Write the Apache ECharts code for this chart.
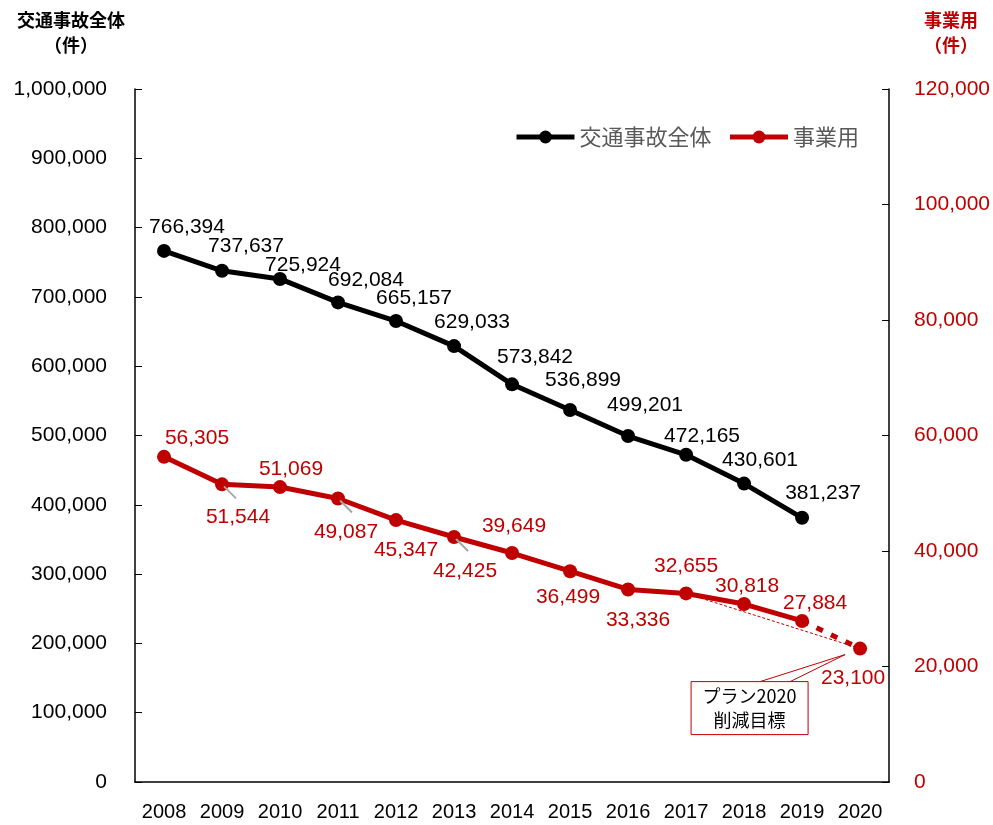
<!DOCTYPE html>
<html>
<head>
<meta charset="utf-8">
<script src="https://cdn.jsdelivr.net/npm/echarts@6/dist/echarts.min.js"></script>
<style>
  html, body { margin: 0; padding: 0; background: #fff; }
  #chart { width: 993px; height: 825px; }
</style>
</head>
<body>
<div id="chart"></div>
<script>
// data
const years = ['2008', '2009', '2010', '2011', '2012', '2013', '2014', '2015', '2016', '2017', '2018', '2019', '2020'];
const totalAccidents = [766394, 737637, 725924, 692084, 665157, 629033, 573842, 536899, 499201, 472165, 430601, 381237, null];
const commercial = [56305, 51544, 51069, 49087, 45347, 42425, 39649, 36499, 33336, 32655, 30818, 27884, null];
const planTarget2020 = 23100;
const leftTicks = [0, 100000, 200000, 300000, 400000, 500000, 600000, 700000, 800000, 900000, 1000000];
const rightTicks = [0, 20000, 40000, 60000, 80000, 100000, 120000];

const BLACK = '#000000';
const RED = '#C00000';
const FONT = "'Liberation Sans', 'Noto Sans CJK JP', sans-serif";
const CJK = "'Noto Sans CJK JP', sans-serif";

// label offsets (centre of label relative to the point)
const blackOffsets = [[23, -24], [24, -25], [23, -14], [28, -22], [18, -23], [18, -24],
  [23, -27], [13, -30], [17, -31], [16, -19], [16, -23], [21, -25]];
const redOffsets = [[33, -19], [16, 33], [11, -18], [8, 34], [10, 30], [11, 34],
  [2, -27], [-2, 26], [10, 31], [0, -27], [3, -18], [13, -18]];
// items with a grey leader line
const leaderIdx = [1, 3, 5];

const fmt = v => v.toLocaleString('en-US');

const chart = echarts.init(document.getElementById('chart'));

const blackData = totalAccidents.map((v, i) => v == null ? null : {
  value: v,
  label: { offset: blackOffsets[i] }
});
const redData = commercial.map((v, i) => v == null ? null : {
  value: v,
  label: { offset: redOffsets[i] }
});
// dashed projection 2019 -> 2020
const projData = years.map((y, i) => {
  if (i === years.length - 2) return { value: commercial[i], symbol: 'none', label: { show: false } };
  if (i === years.length - 1) return { value: planTarget2020, label: { offset: [-7, 30] } };
  return null;
});
// thin dashed trend 2017 -> 2020
const trendData = years.map((y, i) => {
  if (i === 9) return commercial[i];
  if (i === years.length - 1) return planTarget2020;
  return null;
});

const labelBase = {
  show: true,
  position: 'inside',
  fontSize: 21,
  fontFamily: FONT,
  formatter: p => fmt(p.value)
};

const option = {
  animation: false,
  backgroundColor: '#fff',
  grid: { left: 135, right: 103, top: 89, bottom: 43 },
  legend: {
    data: ['交通事故全体', '事業用'],
    left: 509,
    top: 121,
    itemWidth: 58,
    itemHeight: 16,
    itemGap: 16,
    lineStyle: { width: 5 },
    textStyle: { fontSize: 22, color: '#595959', fontFamily: CJK }
  },
  xAxis: {
    type: 'category',
    data: years,
    boundaryGap: true,
    axisLine: { lineStyle: { color: BLACK, width: 1.5 } },
    axisTick: { inside: true, length: 7, lineStyle: { color: BLACK } },
    axisLabel: { color: BLACK, fontSize: 20, fontFamily: FONT, margin: 20 }
  },
  yAxis: [
    {
      type: 'value',
      min: leftTicks[0],
      max: leftTicks[leftTicks.length - 1],
      interval: leftTicks[1] - leftTicks[0],
      position: 'left',
      axisLine: { show: true, lineStyle: { color: BLACK, width: 1.5 } },
      axisTick: { show: true, inside: true, length: 7, lineStyle: { color: BLACK } },
      splitLine: { show: false },
      axisLabel: { color: BLACK, fontSize: 21, fontFamily: FONT, margin: 28, formatter: fmt }
    },
    {
      type: 'value',
      min: rightTicks[0],
      max: rightTicks[rightTicks.length - 1],
      interval: rightTicks[1] - rightTicks[0],
      position: 'right',
      axisLine: { show: true, lineStyle: { color: BLACK, width: 1.5 } },
      axisTick: { show: true, inside: true, length: 7, lineStyle: { color: BLACK } },
      splitLine: { show: false },
      axisLabel: { color: RED, fontSize: 21, fontFamily: FONT, margin: 25, formatter: fmt }
    }
  ],
  series: [
    {
      name: 'trend',
      type: 'line',
      yAxisIndex: 1,
      data: trendData,
      connectNulls: true,
      showSymbol: false,
      silent: true,
      z: 1,
      lineStyle: { color: RED, width: 1, type: [3, 2] }
    },
    {
      name: 'projection',
      type: 'line',
      yAxisIndex: 1,
      data: projData,
      symbol: 'circle',
      symbolSize: 14,
      z: 2,
      itemStyle: { color: RED },
      lineStyle: { color: RED, width: 5, type: [7, 9] },
      label: Object.assign({}, labelBase, { color: RED })
    },
    {
      name: '交通事故全体',
      type: 'line',
      yAxisIndex: 0,
      data: blackData,
      symbol: 'circle',
      symbolSize: 14,
      z: 3,
      itemStyle: { color: BLACK },
      lineStyle: { color: BLACK, width: 5 },
      label: Object.assign({}, labelBase, { color: BLACK })
    },
    {
      name: '事業用',
      type: 'line',
      yAxisIndex: 1,
      data: redData,
      symbol: 'circle',
      symbolSize: 14,
      z: 3,
      itemStyle: { color: RED },
      lineStyle: { color: RED, width: 5 },
      label: Object.assign({}, labelBase, { color: RED })
    }
  ]
};

chart.setOption(option);

// annotations placed from the library's own scales
const graphics = [
  {
    type: 'text', x: 71, y: 8,
    style: { text: '交通事故全体\n（件）', font: 'bold 18px ' + CJK, fill: BLACK, textAlign: 'center', lineHeight: 25 }
  },
  {
    type: 'text', x: 951, y: 8,
    style: { text: '事業用\n（件）', font: 'bold 18px ' + CJK, fill: RED, textAlign: 'center', lineHeight: 25 }
  }
];

leaderIdx.forEach(i => {
  const p = chart.convertToPixel({ xAxisIndex: 0, yAxisIndex: 1 }, [i, commercial[i]]);
  graphics.push({
    type: 'line', z: 10, silent: true,
    shape: { x1: p[0] + 2, y1: p[1] + 2, x2: p[0] + 14, y2: p[1] + 14 },
    style: { stroke: '#A6A6A6', lineWidth: 2 }
  });
});

const tp = chart.convertToPixel({ xAxisIndex: 0, yAxisIndex: 1 }, [years.length - 1, planTarget2020]);
const tip = [tp[0] - 15, tp[1] + 6];
const box = { x: tp[0] - 169, y: tp[1] + 33, w: 117, h: 53 };
graphics.push(
  {
    type: 'polyline', z: 10, silent: true,
    shape: { points: [[box.x + 69, box.y], tip, [box.x + 99, box.y]] },
    style: { stroke: RED, lineWidth: 1, fill: null }
  },
  {
    type: 'rect', z: 11, silent: true,
    shape: { x: box.x, y: box.y, width: box.w, height: box.h },
    style: { stroke: RED, lineWidth: 1, fill: '#fff' }
  },
  {
    type: 'text', z: 12, silent: true,
    x: box.x + box.w / 2, y: box.y + box.h / 2,
    style: { text: 'プラン2020\n削減目標', font: '18px ' + CJK, fill: BLACK, textAlign: 'center', textVerticalAlign: 'middle', lineHeight: 24 }
  }
);

chart.setOption({ graphic: graphics });

window.addEventListener('resize', () => chart.resize());
</script>
</body>
</html>
